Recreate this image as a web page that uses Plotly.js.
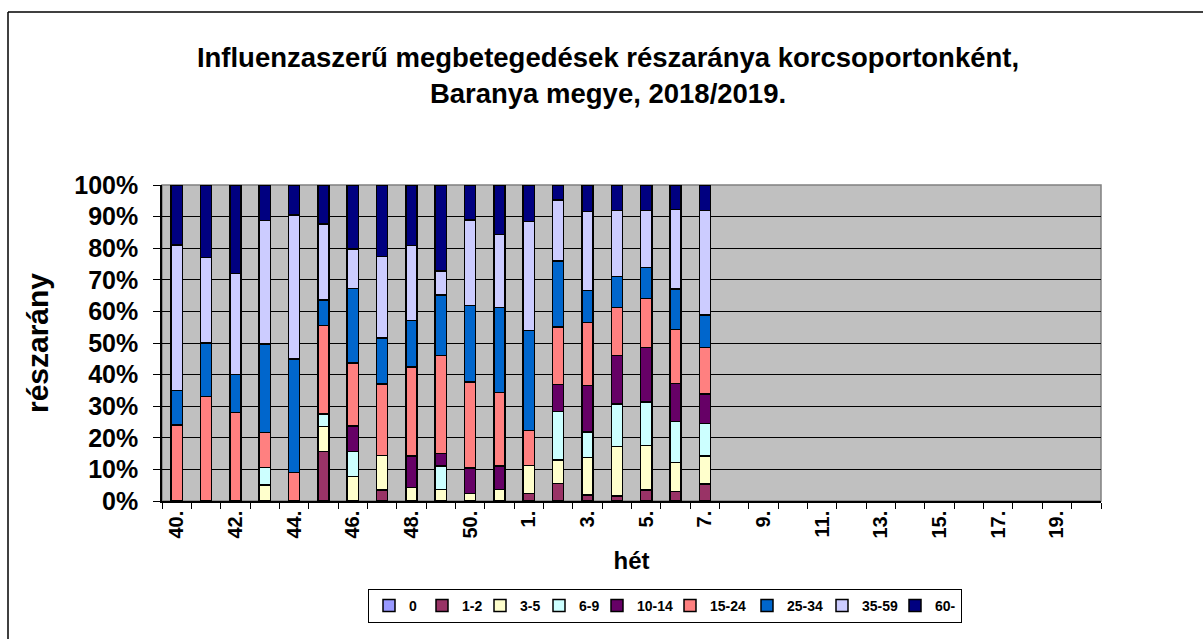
<!DOCTYPE html>
<html>
<head>
<meta charset="utf-8">
<script src="https://cdn.plot.ly/plotly-3.0.1.min.js"></script>
<style>
  html, body { margin: 0; padding: 0; background: #ffffff; }
  #chart { width: 1203px; height: 639px; }
</style>
</head>
<body>
<div id="chart"></div>
<script>
// Week labels (x categories)
const weeks = ['40.','41.','42.','43.','44.','45.','46.','47.','48.','49.','50.','51.',
  '1.','2.','3.','4.','5.','6.','7.','8.','9.','10.','11.','12.','13.','14.','15.','16.','17.','18.','19.','20.'];

// Age groups (series names)
const groups = ['0','1-2','3-5','6-9','10-14','15-24','25-34','35-59','60-'];

// Share of each age group per week (%), weeks 40. .. 7. (later weeks have no data)
const s0    = [0,0,0,0,0,0,0,0,0,0,0,0,0,0,0,0,0,0,0];
const s1_2  = [0,0,0,0,0,15.6,0,3.5,0,0,0,0,2.4,5.6,1.9,1.6,3.5,3.0,5.4];
const s3_5  = [0,0,0,5.1,0,8,7.7,11,4.2,3.7,2.4,3.7,8.8,7.4,11.8,15.6,14,9.2,8.9];
const s6_9  = [0,0,0,5.5,0,4,8,0,0,7.4,0,0,0,15.3,8.2,13.5,13.9,12.9,10.3];
const s10_14= [0,0,0,0,0,0,8,0,10,4,8,7.4,0,8.6,14.6,15.3,17.2,12.1,9.3];
const s15_24= [24,33,28,11,9,28,20,22.6,28.2,31,27.3,23.2,11.1,18.1,20,15.2,15.5,17.1,14.6];
const s25_34= [11,17,12,28,36,8,23.5,14.6,14.7,19.2,24.2,26.9,31.6,20.9,10.1,9.8,9.8,12.8,10.4];
const s35_59= [46,27,32,39,45.5,24,12.5,25.8,23.7,7.6,27.1,23.2,34.5,19.4,25,20.9,18,25.2,33];
const s60   = [19,23,28,11.3,9.5,12.4,20.3,22.7,19.2,27.2,11.1,15.6,11.6,4.7,8.4,8.1,8.1,7.7,8.1];

const seriesValues = [s0, s1_2, s3_5, s6_9, s10_14, s15_24, s25_34, s35_59, s60];
const colors = ['#9999FF','#993366','#FFFFCC','#CCFFFF','#660066','#FF8080','#0066CC','#CCCCFF','#000080'];
// spacing of the legend entries (text slot width, px)
const legendSlots = [0, 13, 14, 13, 28, 32, 30, 28, 0];

const FONT = 'Arial, "Liberation Sans", sans-serif';

const traces = groups.map((g, k) => ({
  type: 'bar',
  name: g,
  x: weeks,
  y: weeks.map((w, i) => {
    const v = seriesValues[k][i];
    return (v === undefined || v === 0) ? null : v;
  }),
  marker: { color: colors[k], line: { color: '#000000', width: 1.5 } },
  legendwidth: legendSlots[k] || undefined,
  hoverinfo: 'x+y+name'
}));

// plot area: x 162..1101, y 185..501
const L = 162, R = 1101, T = 185, B = 501;
const px = v => (v - L) / (R - L);
const py = v => (B - v) / (B - T);

const layout = {
  width: 1203, height: 639,
  margin: { l: L, r: 1203 - R, t: T, b: 639 - B, pad: 0 },
  paper_bgcolor: '#ffffff',
  plot_bgcolor: '#C0C0C0',
  barmode: 'stack',
  barnorm: 'percent',
  bargap: 0.62,
  showlegend: true,
  font: { family: FONT, color: '#000000', weight: 'bold' },
  title: {
    text: 'Influenzaszerű megbetegedések részaránya korcsoportonként,<br>Baranya megye, 2018/2019.',
    font: { family: FONT, size: 27.5, weight: 'bold', color: '#000000' },
    x: 608 / 1203, xanchor: 'center', xref: 'container',
    y: 1 - 67 / 639, yanchor: 'middle', yref: 'container'
  },
  xaxis: {
    type: 'category',
    categoryorder: 'array',
    categoryarray: weeks,
    tickmode: 'array',
    tickvals: weeks,
    ticktext: weeks.map((w, i) => (i % 2 === 0 ? w : '')),
    tickangle: -90,
    tickson: 'boundaries',
    ticks: 'outside', ticklen: 6, tickwidth: 1, tickcolor: '#000000',
    tickfont: { family: FONT, size: 20, weight: 'bold', color: '#000000' },
    showline: true, linecolor: '#000000', linewidth: 1.5,
    showgrid: false, zeroline: false,
    automargin: false,
    title: { text: 'hét', font: { family: FONT, size: 24, weight: 'bold', color: '#000000' }, standoff: 15 }
  },
  yaxis: {
    range: [0, 100],
    tickmode: 'linear', tick0: 0, dtick: 10,
    ticksuffix: '%',
    ticks: 'outside', ticklen: 7, tickwidth: 1, tickcolor: '#000000',
    ticklabelstandoff: 10,
    tickfont: { family: FONT, size: 25, weight: 'bold', color: '#000000' },
    showline: true, linecolor: '#000000', linewidth: 1.5,
    showgrid: true, gridcolor: '#000000', gridwidth: 1,
    zeroline: false,
    automargin: false,
    title: { text: 'részarány', font: { family: FONT, size: 30, weight: 'bold', color: '#000000' }, standoff: 17 }
  },
  legend: {
    orientation: 'h',
    x: px(665), xanchor: 'center',
    y: py(589), yanchor: 'top',
    bgcolor: '#ffffff',
    bordercolor: '#000000', borderwidth: 1,
    font: { family: FONT, size: 14, weight: 'bold', color: '#000000' },
    traceorder: 'normal',
    itemwidth: 30
  },
  shapes: [
    { type: 'rect', xref: 'paper', yref: 'paper', x0: 0, x1: 1, y0: 0, y1: 1,
      line: { color: '#808080', width: 1.5 }, layer: 'below' },
    { type: 'line', xref: 'paper', yref: 'paper', x0: px(8), x1: px(1210), y0: py(12), y1: py(12),
      line: { color: '#000000', width: 1.5 } },
    { type: 'line', xref: 'paper', yref: 'paper', x0: px(8), x1: px(8), y0: py(12), y1: py(650),
      line: { color: '#000000', width: 1.5 } }
  ]
};

Plotly.newPlot('chart', traces, layout, { displayModeBar: false, responsive: false });
</script>
</body>
</html>
